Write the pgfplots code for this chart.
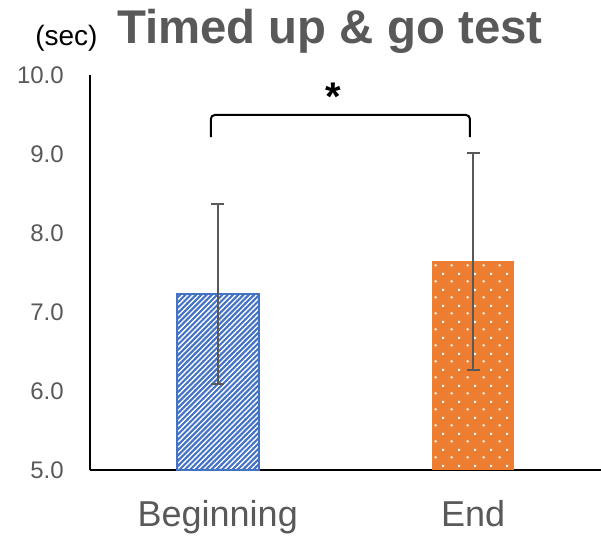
\documentclass[border=0pt]{standalone}
\usepackage{pgfplots}
\pgfplotsset{compat=1.18}
\usepackage{fontspec}
\setmainfont{Liberation Sans}
\usetikzlibrary{patterns,patterns.meta}

\definecolor{barblue}{HTML}{4472C4}
\definecolor{barorange}{HTML}{ED7D31}
\definecolor{txtgray}{HTML}{595959}
\definecolor{errgray}{HTML}{595959}

% staggered white dots for the second bar
\pgfdeclarepatternformonly{staggerdots}{\pgfpointorigin}{\pgfqpoint{12pt}{12pt}}{\pgfqpoint{12pt}{12pt}}{%
  \pgfpathrectangle{\pgfqpoint{2pt}{2pt}}{\pgfqpoint{1.6pt}{1.6pt}}%
  \pgfpathrectangle{\pgfqpoint{8pt}{8pt}}{\pgfqpoint{1.6pt}{1.6pt}}%
  \pgfusepath{fill}}

\begin{document}
\begin{tikzpicture}
\begin{axis}[
  scale only axis,
  width=383.25pt, height=296.25pt,
  xmin=-0.5, xmax=1.5,
  ymin=5, ymax=10,
  axis x line=bottom, axis y line=left,
  axis line style={-, line width=1.1pt, black},
  xtick={0,1}, xticklabels={Beginning,End},
  ytick={5,6,7,8,9,10},
  major tick length=0pt,
  /pgf/number format/.cd, fixed, fixed zerofill, precision=1, assume math mode=true,
  /pgfplots/.cd,
  yticklabel style={font=\fontsize{18}{20}\selectfont, text=txtgray, anchor=east, inner sep=0pt, xshift=-19.5pt},
  xticklabel style={font=\fontsize{27}{30}\selectfont, text=txtgray, anchor=base, inner sep=0pt, yshift=-42.75pt},
  ybar, bar width=61.5pt, bar shift=0pt,
  clip=false,
  error bars/y dir=both, error bars/y explicit,
  error bars/error bar style={line width=1.3pt, color=errgray},
  error bars/error mark options={rotate=90, mark size=4.9pt, line width=1.3pt, color=errgray},
]
\addplot[fill=barblue, draw=barblue, line width=1.6pt,
  postaction={pattern={Lines[angle=45,distance=2.8pt,line width=1.0pt]}, pattern color=white}]
  coordinates {(0,7.23) +- (0,1.14)};
\addplot[fill=barorange, draw=none,
  postaction={pattern=staggerdots, pattern color=white}]
  coordinates {(1,7.64) +- (0,1.37)};

% significance bracket
\draw[black, line width=1.5pt, rounded corners=3pt]
  (axis cs:-0.027,9.215) -- (axis cs:-0.027,9.494) -- (axis cs:0.987,9.494) -- (axis cs:0.987,9.215);
\node[font=\bfseries\fontsize{30}{32}\selectfont, inner sep=0pt] at (axis cs:0.451,9.73) {*};
\end{axis}
% title
\node[anchor=base west, inner sep=0pt, font=\fontsize{21}{23}\selectfont] at (-41.25pt,318pt) {(sec)};
\node[anchor=base west, inner sep=0pt, font=\bfseries\fontsize{35.5}{38}\selectfont, text=txtgray] at (20.25pt,319.5pt) {Timed up \& go test};
\pgfresetboundingbox
\useasboundingbox (-67.5pt,-53.25pt) rectangle (383.25pt,352.5pt);
\end{tikzpicture}
\end{document}
